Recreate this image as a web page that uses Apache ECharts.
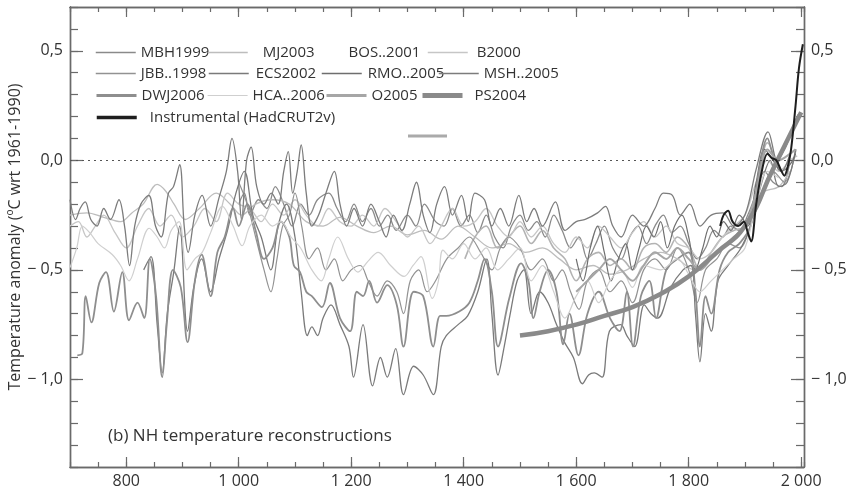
<!DOCTYPE html>
<html>
<head>
<meta charset="utf-8">
<script src="https://cdn.jsdelivr.net/npm/echarts@6/dist/echarts.min.js"></script>
<style>
html, body { margin: 0; background: #fff; }
#chart { width: 850px; height: 493px; }
</style>
</head>
<body>
<div id="chart"></div>
<script>
// NH temperature reconstructions, anomaly in degC wrt 1961-1990
var xLabelYears = [800, 1000, 1200, 1400, 1600, 1800, 2000];
var yLabelValues = [-1.0, -0.5, 0.0, 0.5];

var mbh1999 = [[1000,-0.2],[1010,-0.15],[1020,-0.25],[1035,-0.18],[1050,-0.22],[1065,-0.12],[1080,-0.2],[1095,-0.3],[1110,-0.2],[1125,-0.25],[1140,-0.18],[1160,-0.15],[1175,-0.22],[1190,-0.28],[1205,-0.2],[1220,-0.28],[1235,-0.22],[1250,-0.3],[1265,-0.25],[1280,-0.32],[1300,-0.25],[1315,-0.3],[1330,-0.2],[1350,-0.28],[1365,-0.3],[1380,-0.22],[1395,-0.3],[1410,-0.25],[1425,-0.33],[1440,-0.25],[1455,-0.35],[1470,-0.4],[1485,-0.3],[1500,-0.25],[1515,-0.32],[1530,-0.28],[1545,-0.35],[1560,-0.25],[1575,-0.32],[1590,-0.4],[1605,-0.35],[1620,-0.45],[1635,-0.38],[1650,-0.3],[1665,-0.4],[1680,-0.45],[1695,-0.35],[1710,-0.3],[1725,-0.38],[1740,-0.3],[1755,-0.25],[1770,-0.33],[1785,-0.3],[1800,-0.38],[1815,-0.45],[1830,-0.4],[1845,-0.32],[1860,-0.35],[1875,-0.3],[1890,-0.32],[1905,-0.25],[1920,-0.15],[1935,-0.05],[1950,-0.1],[1965,-0.12],[1980,0.0]];

var mj2003 = [[700,-0.25],[730,-0.24],[760,-0.26],[790,-0.28],[810,-0.24],[830,-0.2],[855,-0.11],[870,-0.14],[885,-0.2],[905,-0.27],[930,-0.22],[960,-0.15],[985,-0.2],[1005,-0.25],[1030,-0.2],[1060,-0.18],[1090,-0.2],[1120,-0.28],[1150,-0.3],[1180,-0.26],[1210,-0.3],[1240,-0.33],[1270,-0.3],[1300,-0.34],[1330,-0.32],[1360,-0.36],[1390,-0.3],[1420,-0.35],[1450,-0.4],[1480,-0.38],[1510,-0.42],[1540,-0.4],[1570,-0.45],[1600,-0.5],[1630,-0.48],[1660,-0.52],[1690,-0.5],[1720,-0.45],[1750,-0.42],[1780,-0.45],[1810,-0.5],[1840,-0.45],[1870,-0.38],[1900,-0.3],[1930,-0.15],[1960,-0.12],[1980,-0.05]];

var bos2001 = [[1402,-0.45],[1420,-0.35],[1440,-0.3],[1460,-0.4],[1480,-0.35],[1500,-0.3],[1520,-0.38],[1540,-0.32],[1560,-0.4],[1580,-0.45],[1600,-0.55],[1620,-0.45],[1640,-0.42],[1660,-0.48],[1680,-0.45],[1700,-0.5],[1720,-0.4],[1740,-0.38],[1760,-0.42],[1780,-0.35],[1800,-0.4],[1820,-0.5],[1840,-0.42],[1860,-0.35],[1880,-0.32],[1900,-0.3],[1920,-0.15],[1940,0.08],[1960,-0.05]];

var b2000 = [[700,-0.3],[715,-0.28],[730,-0.35],[745,-0.3],[760,-0.25],[780,-0.33],[800,-0.4],[820,-0.3],[840,-0.22],[860,-0.3],[880,-0.25],[900,-0.35],[920,-0.3],[940,-0.22],[960,-0.28],[980,-0.15],[1000,-0.2],[1020,-0.22],[1040,-0.28],[1060,-0.2],[1080,-0.25],[1100,-0.18],[1120,-0.25],[1140,-0.3],[1160,-0.22],[1180,-0.28],[1200,-0.3],[1220,-0.25],[1240,-0.3],[1260,-0.22],[1280,-0.28],[1300,-0.35],[1320,-0.3],[1340,-0.38],[1360,-0.3],[1380,-0.22],[1400,-0.3],[1420,-0.28],[1440,-0.22],[1460,-0.3],[1480,-0.35],[1500,-0.28],[1520,-0.35],[1540,-0.3],[1560,-0.38],[1580,-0.42],[1600,-0.35],[1620,-0.4],[1640,-0.3],[1660,-0.35],[1680,-0.4],[1700,-0.33],[1720,-0.28],[1740,-0.35],[1760,-0.3],[1780,-0.38],[1800,-0.4],[1820,-0.45],[1840,-0.42],[1860,-0.35],[1880,-0.3],[1900,-0.25],[1920,-0.1],[1940,0.0],[1960,-0.05],[1980,0.0],[1993,0.02]];

var jbb1998 = [[1000,-0.1],[1015,-0.2],[1030,-0.35],[1045,-0.5],[1057,-0.6],[1068,-0.45],[1078,-0.3],[1090,-0.25],[1100,-0.15],[1112,-0.3],[1125,-0.45],[1140,-0.4],[1155,-0.5],[1170,-0.45],[1185,-0.55],[1200,-0.5],[1216,-0.48],[1230,-0.55],[1246,-0.62],[1264,-0.55],[1281,-0.6],[1293,-0.7],[1305,-0.55],[1320,-0.5],[1335,-0.6],[1350,-0.55],[1370,-0.45],[1390,-0.4],[1410,-0.35],[1430,-0.42],[1450,-0.5],[1465,-0.4],[1480,-0.35],[1500,-0.4],[1520,-0.5],[1540,-0.45],[1560,-0.55],[1575,-0.5],[1590,-0.6],[1605,-0.68],[1620,-0.55],[1640,-0.5],[1660,-0.6],[1680,-0.55],[1700,-0.65],[1720,-0.5],[1740,-0.45],[1760,-0.5],[1780,-0.4],[1800,-0.5],[1815,-0.65],[1830,-0.5],[1850,-0.45],[1870,-0.38],[1890,-0.4],[1910,-0.3],[1930,-0.15],[1950,-0.05],[1970,-0.1],[1991,0.05]];

var ecs2002 = [[831,-0.5],[844,-0.44],[855,-0.75],[864,-0.97],[873,-0.7],[885,-0.5],[895,-0.3],[909,-0.78],[920,-0.58],[934,-0.45],[950,-0.6],[965,-0.45],[980,-0.32],[995,-0.15],[1010,-0.05],[1025,-0.25],[1040,-0.35],[1057,-0.5],[1070,-0.3],[1085,-0.2],[1100,-0.35],[1111,-0.6],[1122,-0.8],[1130,-0.76],[1140,-0.8],[1150,-0.72],[1164,-0.66],[1180,-0.75],[1196,-0.85],[1204,-0.99],[1221,-0.75],[1238,-1.03],[1252,-0.9],[1264,-0.99],[1279,-0.86],[1293,-1.07],[1311,-0.94],[1328,-0.98],[1346,-1.07],[1360,-0.85],[1369,-0.8],[1390,-0.75],[1407,-0.71],[1425,-0.6],[1441,-0.45],[1450,-0.7],[1461,-0.98],[1472,-0.85],[1482,-0.71],[1495,-0.55],[1507,-0.5],[1520,-0.7],[1535,-0.6],[1550,-0.65],[1565,-0.75],[1579,-0.83],[1595,-0.9],[1611,-1.02],[1622,-0.98],[1632,-0.97],[1646,-0.99],[1659,-0.78],[1679,-0.75],[1690,-0.8],[1704,-0.85],[1721,-0.66],[1733,-0.7],[1745,-0.72],[1768,-0.58],[1790,-0.5],[1804,-0.48],[1812,-0.7],[1820,-0.92],[1830,-0.7],[1840,-0.78],[1852,-0.55],[1870,-0.48],[1893,-0.4],[1910,-0.3],[1930,-0.1],[1945,0.0],[1960,-0.12],[1975,-0.1],[1990,0.05]];

var rmo2005 = [[1600,-0.45],[1612,-0.55],[1625,-0.4],[1638,-0.3],[1650,-0.42],[1662,-0.55],[1675,-0.45],[1688,-0.38],[1700,-0.5],[1712,-0.4],[1725,-0.3],[1738,-0.35],[1750,-0.28],[1762,-0.4],[1775,-0.3],[1788,-0.25],[1800,-0.35],[1812,-0.5],[1825,-0.4],[1838,-0.3],[1850,-0.35],[1862,-0.28],[1875,-0.32],[1890,-0.25],[1905,-0.3],[1920,-0.1],[1935,0.05],[1950,0.0],[1965,-0.05],[1980,-0.02],[1990,0.03]];

var msh2005 = [[700,-0.18],[710,-0.27],[718,-0.22],[727,-0.19],[737,-0.27],[748,-0.3],[760,-0.22],[772,-0.27],[787,-0.18],[797,-0.3],[806,-0.48],[815,-0.3],[826,-0.2],[840,-0.16],[852,-0.3],[862,-0.35],[875,-0.15],[884,-0.12],[895,-0.02],[903,-0.3],[910,-0.42],[922,-0.25],[935,-0.16],[950,-0.3],[965,-0.17],[978,-0.05],[988,0.1],[998,-0.05],[1005,-0.27],[1014,0.0],[1022,0.06],[1032,-0.12],[1045,-0.2],[1058,-0.15],[1070,-0.2],[1080,-0.05],[1088,0.04],[1096,-0.15],[1104,-0.05],[1111,0.07],[1120,-0.15],[1130,-0.3],[1142,-0.25],[1155,-0.15],[1170,-0.05],[1180,-0.2],[1192,-0.3],[1205,-0.22],[1220,-0.3],[1235,-0.2],[1250,-0.28],[1262,-0.35],[1275,-0.25],[1290,-0.32],[1304,-0.2],[1316,-0.1],[1328,-0.25],[1340,-0.33],[1352,-0.2],[1366,-0.12],[1380,-0.25],[1396,-0.16],[1408,-0.28],[1420,-0.15],[1437,-0.18],[1450,-0.3],[1465,-0.22],[1480,-0.3],[1498,-0.16],[1512,-0.28],[1525,-0.22],[1540,-0.3],[1563,-0.19],[1580,-0.32],[1600,-0.28],[1616,-0.27],[1638,-0.24],[1652,-0.21],[1665,-0.3],[1680,-0.35],[1700,-0.25],[1720,-0.3],[1740,-0.22],[1755,-0.15],[1771,-0.16],[1785,-0.25],[1802,-0.2],[1820,-0.3],[1840,-0.25],[1861,-0.24],[1880,-0.3],[1900,-0.25],[1920,-0.04],[1941,0.13],[1955,0.0],[1965,-0.05],[1979,0.02]];

var dwj2006 = [[713,-0.89],[722,-0.88],[728,-0.62],[738,-0.74],[752,-0.56],[764,-0.51],[778,-0.69],[793,-0.51],[805,-0.73],[820,-0.65],[832,-0.72],[842,-0.45],[853,-0.62],[864,-0.99],[872,-0.75],[883,-0.5],[897,-0.58],[909,-0.83],[922,-0.55],[934,-0.43],[950,-0.62],[962,-0.42],[975,-0.35],[990,-0.22],[1000,-0.3],[1015,-0.2],[1030,-0.32],[1045,-0.45],[1060,-0.4],[1075,-0.28],[1090,-0.35],[1098,-0.48],[1109,-0.51],[1120,-0.6],[1130,-0.62],[1148,-0.67],[1162,-0.56],[1180,-0.72],[1198,-0.78],[1210,-0.6],[1221,-0.62],[1232,-0.55],[1246,-0.65],[1264,-0.57],[1281,-0.66],[1293,-0.85],[1311,-0.6],[1328,-0.62],[1346,-0.85],[1358,-0.71],[1369,-0.71],[1392,-0.69],[1410,-0.65],[1425,-0.55],[1437,-0.45],[1450,-0.6],[1461,-0.85],[1481,-0.63],[1502,-0.47],[1515,-0.55],[1524,-0.72],[1535,-0.6],[1550,-0.5],[1565,-0.6],[1577,-0.84],[1588,-0.7],[1604,-0.89],[1620,-0.7],[1640,-0.6],[1660,-0.72],[1677,-0.78],[1690,-0.6],[1701,-0.85],[1715,-0.62],[1730,-0.55],[1742,-0.72],[1760,-0.5],[1780,-0.45],[1800,-0.42],[1812,-0.6],[1820,-0.85],[1830,-0.62],[1840,-0.7],[1855,-0.5],[1870,-0.42],[1890,-0.38],[1910,-0.3],[1925,-0.05],[1940,0.1],[1955,0.0],[1970,0.05],[1985,0.15],[1995,0.21]];

var hca2006 = [[700,-0.49],[712,-0.4],[722,-0.3],[735,-0.33],[750,-0.38],[775,-0.43],[790,-0.48],[805,-0.55],[820,-0.45],[841,-0.31],[855,-0.35],[868,-0.4],[880,-0.32],[894,-0.28],[908,-0.5],[922,-0.45],[935,-0.42],[950,-0.33],[971,-0.21],[990,-0.3],[1006,-0.39],[1020,-0.3],[1040,-0.25],[1060,-0.3],[1075,-0.28],[1093,-0.35],[1110,-0.4],[1130,-0.5],[1147,-0.55],[1160,-0.45],[1176,-0.35],[1195,-0.45],[1212,-0.51],[1230,-0.46],[1248,-0.42],[1270,-0.48],[1294,-0.53],[1310,-0.48],[1324,-0.44],[1344,-0.63],[1355,-0.55],[1363,-0.41],[1380,-0.45],[1400,-0.38],[1420,-0.45],[1440,-0.4],[1460,-0.5],[1480,-0.45],[1500,-0.4],[1520,-0.55],[1540,-0.48],[1560,-0.6],[1580,-0.72],[1600,-0.62],[1620,-0.55],[1640,-0.65],[1660,-0.55],[1680,-0.5],[1700,-0.58],[1720,-0.48],[1750,-0.5],[1780,-0.45],[1800,-0.52],[1820,-0.6],[1840,-0.55],[1860,-0.5],[1880,-0.45],[1900,-0.4],[1920,-0.2],[1940,-0.05],[1960,-0.08]];

var o2005 = [[1600,-0.6],[1620,-0.55],[1640,-0.5],[1660,-0.45],[1680,-0.5],[1700,-0.55],[1720,-0.48],[1740,-0.42],[1760,-0.45],[1780,-0.4],[1800,-0.45],[1820,-0.5],[1840,-0.45],[1860,-0.4],[1880,-0.35],[1900,-0.3],[1920,-0.15],[1940,0.05],[1960,0.0],[1975,0.02],[1990,0.05]];

var ps2004 = [[1500,-0.8],[1550,-0.78],[1600,-0.75],[1650,-0.71],[1700,-0.67],[1750,-0.61],[1800,-0.53],[1850,-0.42],[1900,-0.3],[1950,-0.04],[2000,0.22]];

var instrumental = [[1856,-0.3],[1862,-0.25],[1870,-0.23],[1878,-0.28],[1888,-0.3],[1898,-0.28],[1905,-0.33],[1911,-0.37],[1920,-0.2],[1930,-0.05],[1940,0.03],[1948,0.01],[1956,0.0],[1965,-0.05],[1970,-0.07],[1976,-0.03],[1982,0.05],[1990,0.25],[1996,0.42],[2003,0.53]];

var FONT = '"Open Sans", "Noto Sans", sans-serif';
var TXT = '#333';
var AX = '#6a6a6a';

var seriesDefs = [
    {name: 'MBH1999', data: mbh1999, color: '#8a8a8a', width: 1.3, key: 1.5},
    {name: 'MJ2003', data: mj2003, color: '#bdbdbd', width: 1.3, key: 1.5},
    {name: 'BOS..2001', data: bos2001, color: '#b3b3b3', width: 1.6, key: 3},
    {name: 'B2000', data: b2000, color: '#c6c6c6', width: 1.3, key: 1.5},
    {name: 'JBB..1998', data: jbb1998, color: '#929292', width: 1.2, key: 1.5},
    {name: 'ECS2002', data: ecs2002, color: '#7a7a7a', width: 1.3, key: 1.5},
    {name: 'RMO..2005', data: rmo2005, color: '#6e6e6e', width: 1.2, key: 1.5},
    {name: 'MSH..2005', data: msh2005, color: '#7c7c7c', width: 1.3, key: 1.5},
    {name: 'DWJ2006', data: dwj2006, color: '#8e8e8e', width: 1.8, key: 3},
    {name: 'HCA..2006', data: hca2006, color: '#cfcfcf', width: 1.2, key: 1.2},
    {name: 'O2005', data: o2005, color: '#a6a6a6', width: 2, key: 3},
    {name: 'PS2004', data: ps2004, color: '#8a8a8a', width: 4.5, key: 5},
    {name: 'Instrumental (HadCRUT2v)', data: instrumental, color: '#1e1e1e', width: 2, key: 3.5}
];

// legend entries: [name, icon left, row centre y, text padding]
var legendSpots = [
    ['MBH1999', 95, 52, 0], ['MJ2003', 207, 52, 10], ['BOS..2001', 338, 52, 0], ['B2000', 427, 52, 4],
    ['JBB..1998', 95, 73, 0], ['ECS2002', 208, 73, 2], ['RMO..2005', 321, 73, 1], ['MSH..2005', 438, 73, 0],
    ['DWJ2006', 95, 95, 0], ['HCA..2006', 207, 95, 0], ['O2005', 325, 95, 0], ['PS2004', 420, 95, 7],
    ['Instrumental (HadCRUT2v)', 95, 117, 8]
];

var chart = echarts.init(document.getElementById('chart'));

var series = seriesDefs.map(function (d) {
    return {
        name: d.name,
        type: 'line',
        data: d.data,
        symbol: 'none',
        smooth: d.name === 'PS2004' ? 0.5 : 0.35,
        lineStyle: {color: d.color, width: d.width},
        itemStyle: {color: d.color},
        emphasis: {disabled: true},
        silent: true,
        z: d.name === 'Instrumental (HadCRUT2v)' ? 5 : 3
    };
});
series[0].markLine = {
    silent: true,
    symbol: ['none', 'none'],
    label: {show: false},
    lineStyle: {color: '#555', type: [2, 4], width: 1},
    data: [{yAxis: 0}]
};

var legends = legendSpots.map(function (s) {
    var def = seriesDefs.filter(function (d) { return d.name === s[0]; })[0];
    var bos = s[0] === 'BOS..2001';
    return {
        data: [{name: s[0]}],
        left: s[1],
        top: s[2] - 7,
        padding: 0,
        itemWidth: bos ? 0 : 40,
        itemHeight: 14,
        itemGap: 0,
        selectedMode: false,
        itemStyle: {opacity: 0},
        lineStyle: {width: def.key, opacity: bos ? 0 : 1},
        textStyle: {color: TXT, fontSize: 15, fontFamily: FONT, padding: [0, 0, 0, s[3]]}
    };
});

function xAxisDef(pos, long, labels) {
    var a = {
        type: 'value', position: pos, min: 700, max: 2005,
        axisLine: {show: true, onZero: false, lineStyle: {color: AX, width: 1.4}},
        splitLine: {show: false},
        axisTick: {show: true, inside: true, length: long ? 10 : 5, lineStyle: {color: AX, width: 1.2}},
        axisLabel: {show: false}
    };
    if (long) {
        a.axisTick.customValues = xLabelYears;
        a.axisLabel = {
            show: labels, customValues: xLabelYears, margin: 6,
            color: TXT, fontSize: 16, fontFamily: FONT,
            formatter: function (v) {
                return v >= 1000 ? Math.floor(v / 1000) + ' ' + String(v).slice(-3) : String(v);
            }
        };
    } else {
        a.interval = 50;
    }
    return a;
}

function yAxisDef(pos, long, withName) {
    var a = {
        type: 'value', position: pos, min: -1.4, max: 0.7,
        axisLine: {show: true, onZero: false, lineStyle: {color: AX, width: 1.4}},
        splitLine: {show: false},
        axisTick: {show: true, inside: true, length: long ? 13 : 8, lineStyle: {color: AX, width: 1.2}},
        axisLabel: {show: false}
    };
    if (long) {
        a.axisTick.customValues = yLabelValues;
        a.axisLabel = {
            show: true, customValues: yLabelValues, margin: 7,
            color: TXT, fontSize: 16, fontFamily: FONT,
            formatter: function (v) {
                return (v < -0.001 ? '\u2212 ' : '') + Math.abs(v).toFixed(1).replace('.', ',');
            }
        };
    } else {
        a.interval = 0.1;
    }
    if (withName) {
        a.name = 'Temperature anomaly (ºC wrt 1961-1990)';
        a.nameLocation = 'middle';
        a.nameGap = 47;
        a.nameMoveOverlap = false;
        a.nameTextStyle = {color: TXT, fontSize: 16, fontFamily: FONT};
    }
    return a;
}

chart.setOption({
    animation: false,
    backgroundColor: '#fff',
    grid: {left: 70, right: 46, top: 7, bottom: 26, containLabel: false, outerBoundsMode: 'none'},
    legend: legends,
    xAxis: [
        xAxisDef('bottom', false, false),
        xAxisDef('bottom', true, true),
        xAxisDef('top', false, false),
        xAxisDef('top', true, false)
    ],
    yAxis: [
        yAxisDef('left', false, false),
        yAxisDef('left', true, true),
        yAxisDef('right', false, false),
        yAxisDef('right', true, false)
    ],
    graphic: [
        {
            type: 'line', silent: true,
            shape: {x1: 408, y1: 136, x2: 447, y2: 136},
            style: {stroke: '#aaa', lineWidth: 3}
        },
        {
            type: 'text', left: 108, top: 428, silent: true,
            style: {text: '(b) NH temperature reconstructions', fontSize: 17, fontFamily: FONT, fill: TXT}
        }
    ],
    series: series
});

window.addEventListener('resize', function () {
    chart.resize();
});
</script>
</body>
</html>
